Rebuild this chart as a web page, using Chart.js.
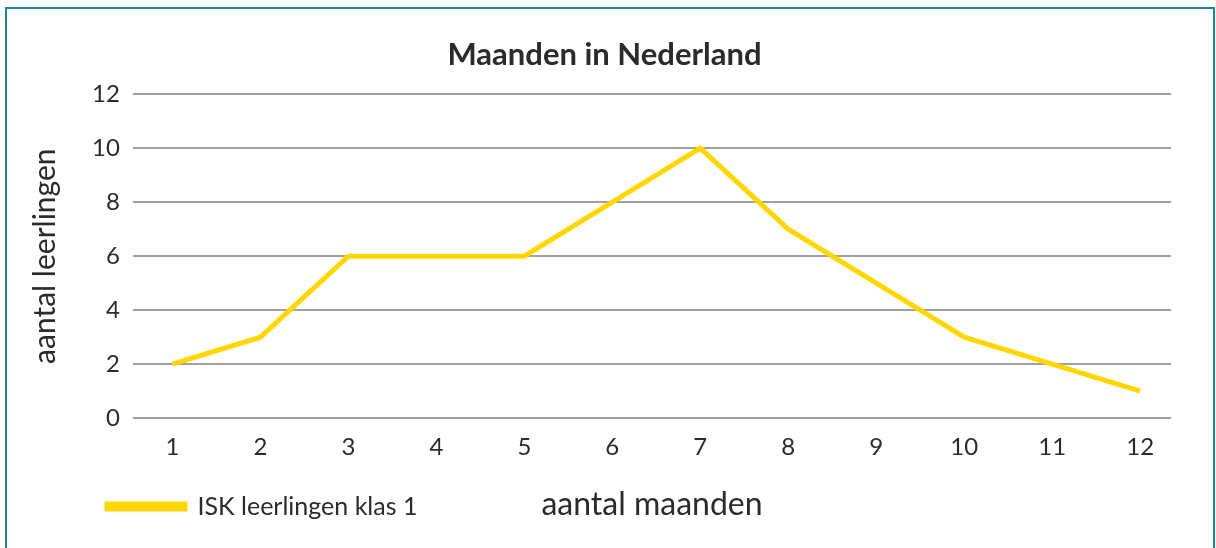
<!DOCTYPE html>
<html>
<head>
<meta charset="utf-8">
<script src="https://cdn.jsdelivr.net/npm/chart.js@4/dist/chart.umd.min.js"></script>
<style>
  html, body { margin: 0; padding: 0; background: #fff; }
  #wrap { position: absolute; left: 0; top: 0; width: 1216px; height: 548px; }
  #frame { position: absolute; left: 5px; top: 7px; width: 1206px; height: 560px; border: 2px solid #1b8797; pointer-events: none; }
</style>
</head>
<body>
<div id="wrap"><canvas id="c" width="1216" height="548"></canvas></div>
<div id="frame"></div>
<script>
const categories = [1, 2, 3, 4, 5, 6, 7, 8, 9, 10, 11, 12];
const seriesName = 'ISK leerlingen klas 1';
const seriesValues = [2, 3, 6, 6, 6, 8, 10, 7, 5, 3, 2, 1];
const yTicks = [0, 2, 4, 6, 8, 10, 12];
const chartTitle = 'Maanden in Nederland';
const xTitle = 'aantal maanden';
const yTitle = 'aantal leerlingen';

const FONT = "Lato, 'Open Sans', sans-serif";
const TXT = '#2b2b2b';

const pointsData = categories.map((c, i) => ({ x: c, y: seriesValues[i] }));

const xTitlePlugin = {
  id: 'xTitleBeside',
  afterLayout(chart) {
    const lg = chart.legend;
    const shift = 107 - (lg.left + lg.options.labels.padding);
    lg.left += shift;
    lg.right += shift;
    const tb = chart.titleBlock;
    tb.left += 14;
    tb.right += 14;
  },
  afterDraw(chart) {
    const lg = chart.legend;
    const ctx = chart.ctx;
    ctx.save();
    ctx.font = "32px " + FONT;
    ctx.fillStyle = TXT;
    ctx.textAlign = 'center';
    ctx.textBaseline = 'middle';
    const y = lg.top + lg.height / 2 + 3;
    ctx.fillText(xTitle, 652, y);
    ctx.restore();
  }
};

new Chart(document.getElementById('c'), {
  type: 'line',
  data: {
    datasets: [{
      label: seriesName,
      data: pointsData,
      borderColor: '#ffd700',
      backgroundColor: '#ffd700',
      borderWidth: 5,
      pointRadius: 0,
      tension: 0,
      fill: false
    }]
  },
  options: {
    responsive: false,
    animation: false,
    layout: { padding: { left: 10, right: 45, top: 15, bottom: 19 } },
    plugins: {
      title: {
        display: true,
        text: chartTitle,
        color: TXT,
        font: { family: FONT, size: 31, weight: 'bold' },
        padding: { top: 21, bottom: 21 }
      },
      legend: {
        position: 'bottom',
        align: 'start',
        labels: {
          color: TXT,
          font: { family: FONT, size: 25 },
          boxWidth: 78,
          boxHeight: 5,
          padding: 20
        }
      },
      tooltip: { enabled: false }
    },
    scales: {
      x: {
        type: 'linear',
        min: 0.55,
        max: 12.35,
        afterBuildTicks(scale) { scale.ticks = categories.map(v => ({ value: v })); },
        afterFit(scale) { scale.height -= 3; },
        grid: { display: false, drawTicks: false },
        border: { display: false },
        ticks: { color: TXT, font: { family: FONT, size: 24 }, padding: 15, callback: v => String(v) }
      },
      y: {
        min: 0,
        max: 12,
        afterBuildTicks(scale) { scale.ticks = yTicks.map(v => ({ value: v })); },
        grid: { color: '#a0a0a0', lineWidth: 2, drawTicks: false },
        border: { display: false },
        ticks: { color: TXT, font: { family: FONT, size: 24 }, padding: 13 },
        title: {
          display: true,
          text: yTitle,
          color: TXT,
          font: { family: FONT, size: 30 },
          padding: { top: 17, bottom: 16 }
        }
      }
    }
  },
  plugins: [xTitlePlugin]
});
</script>
</body>
</html>
